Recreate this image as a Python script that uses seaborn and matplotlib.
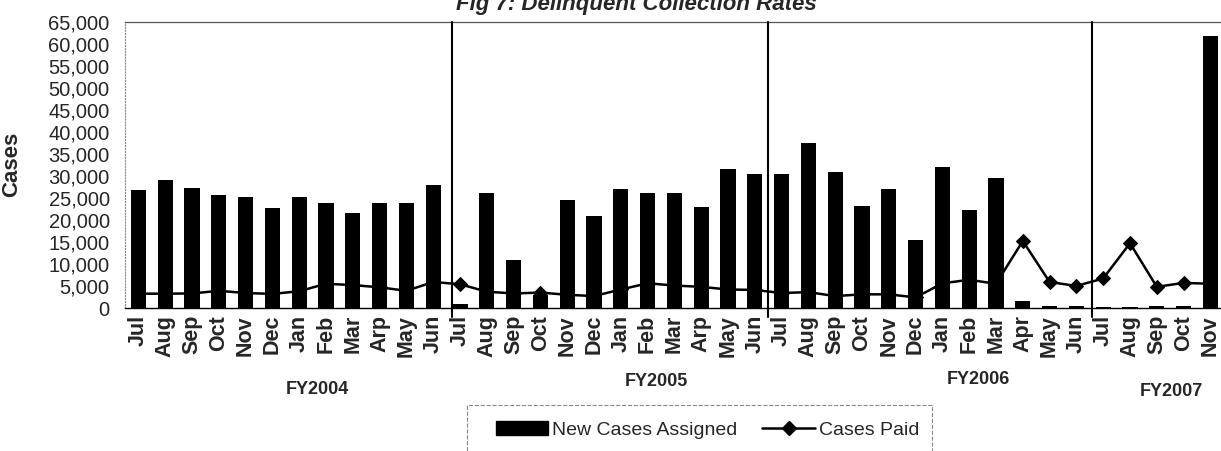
import matplotlib
matplotlib.use("Agg")
import matplotlib.pyplot as plt
import seaborn as sns
import pandas as pd
from matplotlib.patches import Patch, Rectangle
from matplotlib.lines import Line2D
from matplotlib.ticker import FuncFormatter, MultipleLocator

# months as printed on the axis (the "Arp" typo is in the original)
months = ["Jul", "Aug", "Sep", "Oct", "Nov", "Dec", "Jan", "Feb", "Mar", "Arp", "May", "Jun",
          "Jul", "Aug", "Sep", "Oct", "Nov", "Dec", "Jan", "Feb", "Mar", "Arp", "May", "Jun",
          "Jul", "Aug", "Sep", "Oct", "Nov", "Dec", "Jan", "Feb", "Mar", "Apr", "May", "Jun",
          "Jul", "Aug", "Sep", "Oct", "Nov"]
fiscal_years = ["FY2004", "FY2005", "FY2006", "FY2007"]

new_cases = [26700, 29100, 27300, 25700, 25100, 22800, 25200, 23800, 21500, 23900, 23900, 27800,
             800, 26200, 10900, 3000, 24500, 20900, 26900, 26000, 26000, 23000, 31500, 30400,
             30300, 37500, 30800, 23100, 27000, 15400, 32000, 22200, 29400, 1500, 400, 400,
             300, 300, 400, 400, 61600]
cases_paid = [3250, 3250, 3300, 3900, 3400, 3200, 3800, 5500, 5200, 4700, 3900, 5900,
              5400, 3700, 3300, 3500, 3000, 2700, 4200, 5600, 5100, 4800, 4200, 4100,
              3400, 3600, 2700, 3100, 3100, 2400, 5600, 6400, 5500, 15200, 5900, 5000,
              6700, 14700, 4800, 5700, 5500]

W, H = 1221, 451

sns.set_style("white")
plt.rcParams["font.family"] = ["Liberation Sans", "DejaVu Sans"]

df = pd.DataFrame({"idx": range(len(months)), "month": months,
                   "new": new_cases, "paid": cases_paid})

fig = plt.figure(figsize=(W / 100, H / 100), dpi=100)
ax = fig.add_axes([125 / W, 1 - 308 / H, 41 * 26.8 / W, (308 - 21.5) / H])

sns.barplot(data=df, x="idx", y="new", color="black", width=0.56, saturation=1,
            linewidth=0, ax=ax)
sns.lineplot(data=df, x="idx", y="paid", color="black", marker="D", markersize=7.5,
             markeredgecolor="black", linewidth=1.8, ax=ax)

ax.set_xlim(-0.5, len(months) - 0.5)
ax.set_ylim(0, 65000)
ax.set_xticks(range(len(months)))
ax.set_xticklabels(months, rotation=90, fontsize=15.5, fontweight="bold")
ax.tick_params(axis="x", which="major", length=0, pad=5)
ax.set_xticks([i + 0.5 for i in range(-1, len(months))], minor=True)
ax.tick_params(axis="x", which="minor", direction="inout", length=9, width=0.8, color="#444444")
ax.yaxis.set_major_locator(MultipleLocator(5000))
ax.yaxis.set_major_formatter(FuncFormatter(lambda v, p: f"{int(v):,}"))
ax.tick_params(axis="y", direction="inout", length=6, width=0.8, color="#777777",
               labelsize=14.5, pad=8)
ax.set_xlabel("")
ax.set_ylabel("Cases", fontsize=16, fontweight="bold")
ax.yaxis.set_label_coords(-0.094, 0.5)

ax.spines["right"].set_visible(False)
ax.spines["top"].set_color("#555555")
ax.spines["top"].set_linewidth(0.9)
ax.spines["left"].set_color("#888888")
ax.spines["left"].set_linestyle(":")
ax.spines["bottom"].set_color("black")
ax.spines["bottom"].set_linewidth(1.0)

# fiscal year separators
for s in [11.7, 23.5, 35.6]:
    ax.axvline(s, ymin=-0.03, ymax=1, color="black", lw=1.5, clip_on=False, zorder=5)

# fiscal year labels
fy_xy = [(317, 389), (656, 381), (978, 379), (1171, 392)]
for name, (px, py) in zip(fiscal_years, fy_xy):
    fig.text(px / W, 1 - py / H, name, ha="center", va="center",
             fontsize=13, fontweight="bold")

# legend with dashed box running off the bottom edge
handles = [Patch(facecolor="black", edgecolor="black"),
           Line2D([0], [0], color="black", lw=1.8, marker="D", markersize=7.5)]
fig.legend(handles, ["New Cases Assigned", "Cases Paid"], loc="center left",
           bbox_to_anchor=(478 / W, 1 - 430 / H), ncol=2, frameon=False,
           fontsize=14, handlelength=2.7, handletextpad=0.2, columnspacing=1.3)
fig.patches.append(Rectangle((467 / W, -0.05), (932 - 467) / W, 0.05 + 1 - 405 / H,
                             transform=fig.transFigure, fill=False, edgecolor="#888888",
                             linestyle="--", lw=0.8))

# title, clipped by the top edge as in the scan
fig.text(636 / W, 1 - 10 / H, "Fig 7: Delinquent Collection Rates", ha="center",
         va="baseline", fontsize=16, fontweight="bold", fontstyle="italic")

fig.savefig("out.png", dpi=100)
